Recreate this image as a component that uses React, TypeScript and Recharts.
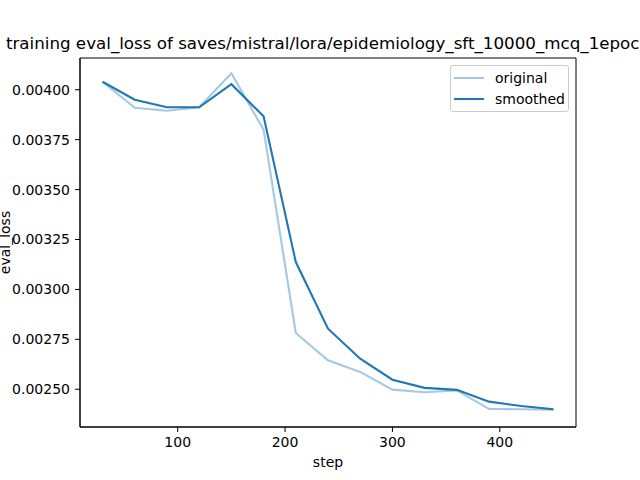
import { LineChart, Line, XAxis, YAxis, Legend, Label, ReferenceArea } from "recharts";

const steps = [30, 60, 90, 120, 150, 180, 210, 240, 270, 300, 330, 360, 390, 420, 450];
const original = [
  0.00404, 0.00391, 0.003895, 0.003912, 0.004083, 0.0038, 0.002782, 0.002645,
  0.002587, 0.002498, 0.002485, 0.002494, 0.0024015, 0.0024, 0.002398,
];
const smoothed = [
  0.00404, 0.00395, 0.003912, 0.003912, 0.004028, 0.003867, 0.003137, 0.0028035,
  0.002653, 0.002548, 0.002507, 0.002497, 0.002438, 0.002416, 0.0024,
];
const xTicks = [100, 200, 300, 400];
const yTicks = [0.0025, 0.00275, 0.003, 0.00325, 0.0035, 0.00375, 0.004];

const title = "training eval_loss of saves/mistral/lora/epidemiology_sft_10000_mcq_1epoch";

const data = steps.map((step, i) => ({ step, original: original[i], smoothed: smoothed[i] }));

const BLUE = "#1f77b4";
const FONT = "DejaVu Sans, sans-serif";
const xDomain = [9, 471];
const yDomain = [0.002311, 0.004159];

function LegendBox() {
  const rows = [
    { name: "original", opacity: 0.4 },
    { name: "smoothed", opacity: 1 },
  ];
  return (
    <div
      style={{
        border: "1px solid #cccccc",
        borderRadius: 3,
        background: "rgba(255,255,255,0.8)",
        padding: "1px 0 2px 0",
        width: 117,
        fontFamily: FONT,
        fontSize: 14,
        color: "#000",
      }}
    >
      {rows.map((r) => (
        <div key={r.name} style={{ display: "flex", alignItems: "center", height: 21 }}>
          <svg width={30} height={4} style={{ marginLeft: 3 }}>
            <line x1={0} x2={30} y1={2} y2={2} stroke={BLUE} strokeOpacity={r.opacity} strokeWidth={2.1} />
          </svg>
          <span style={{ marginLeft: 11 }}>{r.name}</span>
        </div>
      ))}
    </div>
  );
}

export default function App() {
  return (
    <div style={{ position: "absolute", left: 0, top: 0, background: "#fff" }}>
      <LineChart
        width={640}
        height={480}
        data={data}
        margin={{ top: 58, right: 64, bottom: 23, left: 8 }}
        style={{ fontFamily: FONT }}
      >
        <XAxis
          dataKey="step"
          type="number"
          domain={xDomain}
          ticks={xTicks}
          allowDataOverflow
          height={30}
          tickSize={5}
          tickMargin={5}
          stroke="#000"
          tick={{ fill: "#000", fontSize: 14 }}
        >
          <Label value="step" position="bottom" offset={0} fill="#000" fontSize={14} />
        </XAxis>
        <YAxis
          type="number"
          domain={yDomain}
          ticks={yTicks}
          allowDataOverflow
          width={72}
          tickSize={5}
          tickMargin={5}
          stroke="#000"
          tick={{ fill: "#000", fontSize: 14 }}
          tickFormatter={(v: number) => v.toFixed(5)}
        >
          <Label
            content={(props: any) => {
              const vb = props.viewBox;
              const cx = 6;
              const cy = vb.y + vb.height / 2;
              return (
                <text x={cx} y={cy} textAnchor="middle" dominantBaseline="middle" fontSize={14} fill="#000" transform={`rotate(-90 ${cx} ${cy})`}>
                  eval_loss
                </text>
              );
            }}
          />
        </YAxis>
        {/* full box frame around the plot area, with the title above it */}
        <ReferenceArea
          x1={xDomain[0]}
          x2={xDomain[1]}
          y1={yDomain[0]}
          y2={yDomain[1]}
          ifOverflow="visible"
          fill="none"
          fillOpacity={0}
          stroke="#000"
          strokeWidth={1}
        >
          <Label
            content={(props: any) => {
              const vb = props.viewBox;
              return (
                <text x={vb.x + vb.width / 2} y={vb.y - 9} textAnchor="middle" fontSize={16.7} fill="#000">
                  {title}
                </text>
              );
            }}
          />
        </ReferenceArea>
        <Legend
          layout="horizontal"
          verticalAlign="middle"
          align="center"
          content={() => <LegendBox />}
          wrapperStyle={{ position: "absolute", top: 65, left: 450, width: "auto" }}
        />
        <Line
          dataKey="original"
          stroke={BLUE}
          strokeOpacity={0.4}
          strokeWidth={2.1}
          dot={false}
          activeDot={false}
          isAnimationActive={false}
        />
        <Line
          dataKey="smoothed"
          stroke={BLUE}
          strokeWidth={2.1}
          dot={false}
          activeDot={false}
          isAnimationActive={false}
        />
      </LineChart>
    </div>
  );
}
